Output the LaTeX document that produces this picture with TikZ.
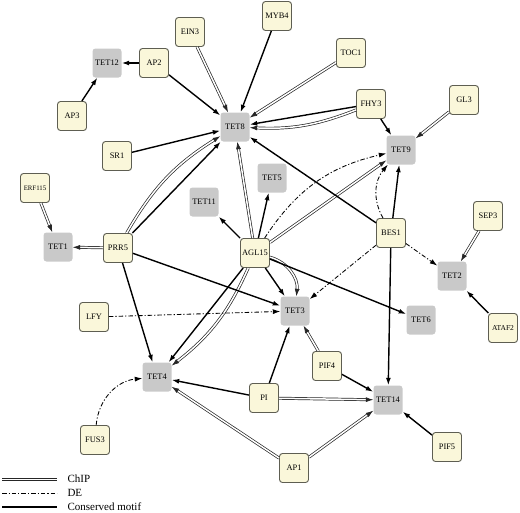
\documentclass[tikz,border=0pt]{standalone}
\usepackage{fontspec}
\setmainfont{Liberation Serif}
\usetikzlibrary{arrows.meta}
\definecolor{cream}{HTML}{FAF7DA}
\definecolor{tetgray}{HTML}{C9C9C9}
\definecolor{rim}{HTML}{5E5E52}

\begin{document}
\begin{tikzpicture}[x=1pt, y=-1pt,
    gene/.style={draw=rim, fill=cream, rounded corners=3pt, line width=0.9pt, minimum size=29pt, inner sep=0pt, font=\fontsize{8.4}{9}\selectfont},
    tet/.style={fill=tetgray, rounded corners=3pt, minimum size=29pt, inner sep=0pt, font=\fontsize{8.4}{9}\selectfont},
    tip/.style={-{Latex[length=7.5pt,width=5pt]}},
    chip/.style={tip, draw=black!85, line width=0.7pt, double=white, double distance=1.5pt},
    de/.style={tip, line width=0.85pt, dash pattern=on 4.5pt off 2pt on 1.2pt off 2pt},
    motif/.style={tip, line width=1.4pt}]
  \useasboundingbox (0,0) rectangle (520,512);
  % target nodes
  \node[tet] (TET12) at (107,63) {TET12};
  \node[tet] (TET8) at (235,127) {TET8};
  \node[tet] (TET9) at (401,150) {TET9};
  \node[tet] (TET5) at (272,178) {TET5};
  \node[tet] (TET11) at (204,202) {TET11};
  \node[tet] (TET1) at (58,247) {TET1};
  \node[tet] (TET2) at (452,276) {TET2};
  \node[tet] (TET3) at (295,311) {TET3};
  \node[tet] (TET6) at (421,320) {TET6};
  \node[tet] (TET4) at (157,377) {TET4};
  \node[tet] (TET14) at (388,400) {TET14};
  % regulators
  \node[gene] (MYB4) at (277,16) {MYB4};
  \node[gene] (EIN3) at (190,32) {EIN3};
  \node[gene] (TOC1) at (351,53) {TOC1};
  \node[gene] (AP2) at (154,63) {AP2};
  \node[gene] (AP3) at (72,116) {AP3};
  \node[gene] (FHY3) at (371,104) {FHY3};
  \node[gene] (GL3) at (464,100) {GL3};
  \node[gene] (SR1) at (117,156) {SR1};
  \node[gene, font=\fontsize{6.8}{8}\selectfont] (ERF115) at (35,188) {ERF115};
  \node[gene] (BES1) at (391,233) {BES1};
  \node[gene] (SEP3) at (488,216) {SEP3};
  \node[gene] (PRR5) at (118,248) {PRR5};
  \node[gene] (AGL15) at (255,253) {AGL15};
  \node[gene, font=\fontsize{7.5}{8}\selectfont] (ATAF2) at (503,328) {ATAF2};
  \node[gene] (LFY) at (94,317) {LFY};
  \node[gene] (PIF4) at (327,366) {PIF4};
  \node[gene] (PI) at (264,398) {PI};
  \node[gene] (PIF5) at (447,447) {PIF5};
  \node[gene] (FUS3) at (95,440) {FUS3};
  \node[gene] (AP1) at (294,468) {AP1};
  % ChIP
  \draw[chip] (EIN3) -- (TET8);
  \draw[chip] (TOC1) -- (TET8);
  \draw[chip] (FHY3) to[bend left=12] (TET8);
  \draw[chip] (PRR5) to[bend left=14] (TET8);
  \draw[chip] (AGL15) -- (TET8);
  \draw[chip] (ERF115) -- (TET1);
  \draw[chip] (PRR5) -- (TET1);
  \draw[chip] (GL3) -- (TET9);
  \draw[chip] (AGL15) -- (TET9);
  \draw[chip] (SEP3) -- (TET2);
  \draw[chip] (AGL15) to[bend left=40] (TET3);
  \draw[chip] (AGL15) to[bend left=14] (TET4);
  \draw[chip] (AP1) -- (TET4);
  \draw[chip] (PIF4) -- (TET3);
  \draw[chip] (PI) -- (TET14);
  \draw[chip] (AP1) -- (TET14);
  % DE
  \draw[de] (AGL15) to[bend left=22] (TET9);
  \draw[de] (BES1) to[bend left=35] (TET9);
  \draw[de] (BES1) -- (TET2);
  \draw[de] (BES1) -- (TET3);
  \draw[de] (LFY) -- (TET3);
  \draw[de] (FUS3) to[bend left=40] (TET4);
  % conserved motif
  \draw[motif] (AP2) -- (TET12);
  \draw[motif] (AP3) -- (TET12);
  \draw[motif] (AP2) -- (TET8);
  \draw[motif] (MYB4) -- (TET8);
  \draw[motif] (SR1) -- (TET8);
  \draw[motif] (PRR5) -- (TET8);
  \draw[motif] (FHY3) -- (TET8);
  \draw[motif] (BES1) -- (TET8);
  \draw[motif] (FHY3) -- (TET9);
  \draw[motif] (BES1) -- (TET9);
  \draw[motif] (AGL15) -- (TET5);
  \draw[motif] (AGL15) -- (TET11);
  \draw[motif] (AGL15) -- (TET3);
  \draw[motif] (AGL15) -- (TET6);
  \draw[motif] (AGL15) -- (TET4);
  \draw[motif] (PRR5) -- (TET3);
  \draw[motif] (PRR5) -- (TET4);
  \draw[motif] (PI) -- (TET4);
  \draw[motif] (PI) -- (TET3);
  \draw[motif] (PIF4) -- (TET14);
  \draw[motif] (BES1) -- (TET14);
  \draw[motif] (ATAF2) -- (TET2);
  \draw[motif] (PIF5) -- (TET14);
  % legend
  \coordinate (c1) at (2,479.5);
  \coordinate (c2) at (57,479.5);
  \coordinate (d1) at (2,493);
  \coordinate (d2) at (57,493);
  \coordinate (m1) at (2,507);
  \coordinate (m2) at (57,507);
  \draw[chip, arrows=-] (c1) -- (c2);
  \draw[de, arrows=-] (d1) -- (d2);
  \draw[motif, arrows=-] (m1) -- (m2);
  \node[anchor=west, font=\fontsize{11}{12}\selectfont] (lchip) at (64,479) {ChIP};
  \node[anchor=west, font=\fontsize{11}{12}\selectfont] (lde) at (64,493) {DE};
  \node[anchor=west, font=\fontsize{11}{12}\selectfont] (lmotif) at (64,507) {Conserved motif};
\end{tikzpicture}
\end{document}
